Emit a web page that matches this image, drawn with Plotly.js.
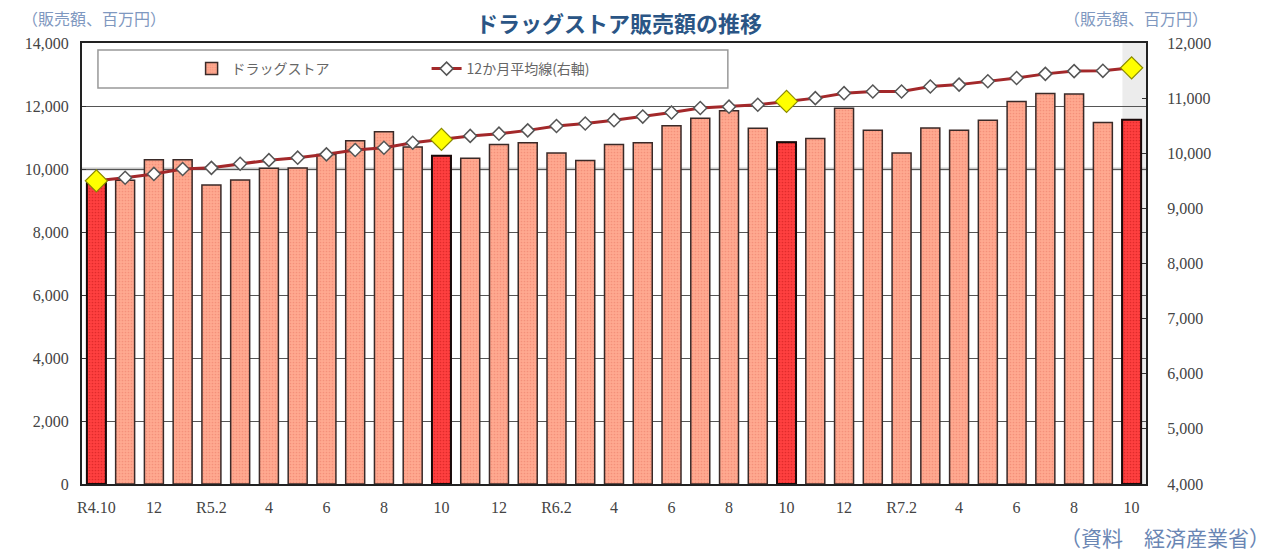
<!DOCTYPE html>
<html>
<head>
<meta charset="utf-8">
<script src="https://cdn.plot.ly/plotly-3.0.1.min.js"></script>
<style>
  html, body { margin: 0; padding: 0; background: #fff; }
  #chart { width: 1284px; height: 553px; }
</style>
</head>
<body>
<div id="chart"></div>
<script>
// ---- data ----
const months = [
  "R4.10","R4.11","R4.12",
  "R5.1","R5.2","R5.3","R5.4","R5.5","R5.6","R5.7","R5.8","R5.9","R5.10","R5.11","R5.12",
  "R6.1","R6.2","R6.3","R6.4","R6.5","R6.6","R6.7","R6.8","R6.9","R6.10","R6.11","R6.12",
  "R7.1","R7.2","R7.3","R7.4","R7.5","R7.6","R7.7","R7.8","R7.9","R7.10"
];
const sales = [
  9550, 9640, 10290,
  10290, 9490, 9650, 10020, 10030, 10460, 10900, 11180, 10700, 10420, 10340, 10780,
  10830, 10510, 10270, 10780, 10830, 11370, 11610, 11850, 11290, 10850, 10970, 11930,
  11230, 10510, 11300, 11230, 11550, 12140, 12400, 12380, 11480, 11560
];
const avg12 = [
  9500, 9555, 9625,
  9715, 9735, 9810, 9875, 9920, 9980, 10060, 10100, 10190, 10250, 10315, 10355,
  10415, 10495, 10540, 10600, 10665, 10740, 10820, 10845, 10880, 10940, 11000, 11090,
  11120, 11120, 11210, 11245, 11305, 11365, 11440, 11490, 11495, 11550
];
const highlightMonths = ["R4.10","R5.10","R6.10","R7.10"];
const tickMonths = ["R4.10","R4.12","R5.2","R5.4","R5.6","R5.8","R5.10","R5.12","R6.2","R6.4","R6.6","R6.8","R6.10","R6.12","R7.2","R7.4","R7.6","R7.8","R7.10"];
const tickLabels = ["R4.10","12","R5.2","4","6","8","10","12","R6.2","4","6","8","10","12","R7.2","4","6","8","10"];
const seriesNames = ["ドラッグストア", "12か月平均線(右軸)"];

// ---- derived ----
const hiIdx = months.map((m,i)=>highlightMonths.includes(m)?i:-1).filter(i=>i>=0);
const hiX = hiIdx.map(i=>months[i]);
const hiSales = hiIdx.map(i=>sales[i]);
const hiAvg = hiIdx.map(i=>avg12[i]);

const serif = '"Liberation Serif", "DejaVu Serif", serif';
const jp = '"Noto Sans CJK JP", "Noto Sans", sans-serif';

const traces = [
  {
    type: 'bar', x: months, y: sales, name: seriesNames[0],
    marker: { color: '#FFA58C', line: { color: '#3a2a28', width: 1.5 },
              pattern: { shape: '.', fgcolor: '#F4907A', bgcolor: '#FFA990', size: 3, solidity: 0.25 } },
    hoverinfo: 'x+y'
  },
  {
    type: 'bar', x: hiX, y: hiSales, name: seriesNames[0], showlegend: false,
    marker: { color: '#FF3A3A', line: { color: '#1a0a0a', width: 2 },
              pattern: { shape: '.', fgcolor: '#E02A2A', bgcolor: '#FF4040', size: 3, solidity: 0.25 } },
    hoverinfo: 'x+y'
  },
  {
    type: 'scatter', mode: 'lines+markers', x: months, y: avg12, yaxis: 'y2', name: seriesNames[1],
    line: { color: '#A3282A', width: 3 },
    marker: { symbol: 'diamond', size: 10, color: '#ffffff', line: { color: '#555555', width: 1.5 } },
    hoverinfo: 'x+y'
  },
  {
    type: 'scatter', mode: 'markers', x: hiX, y: hiAvg, yaxis: 'y2', showlegend: false,
    marker: { symbol: 'diamond', size: 17, color: '#FFFF00', line: { color: '#8a8a00', width: 1.2 } },
    hoverinfo: 'x+y'
  }
];

const layout = {
  width: 1284, height: 553,
  paper_bgcolor: '#ffffff', plot_bgcolor: '#ffffff',
  margin: { l: 82, r: 138, t: 43, b: 69 },
  barmode: 'overlay', bargap: 0.34,
  showlegend: true,
  legend: {
    orientation: 'h', x: 0.103, xanchor: 'left', y: 0.941, yanchor: 'middle',
    bgcolor: 'rgba(0,0,0,0)', borderwidth: 0,
    font: { family: jp, size: 14, color: '#666666' },
    entrywidth: 190, entrywidthmode: 'pixels', traceorder: 'normal',
    itemwidth: 30
  },
  xaxis: {
    type: 'category', categoryorder: 'array', categoryarray: months,
    tickmode: 'array', tickvals: tickMonths, ticktext: tickLabels,
    ticks: '', showgrid: false, showline: true, linecolor: '#222', linewidth: 2, mirror: true,
    tickfont: { family: serif, size: 16, color: '#444' }, ticklabelstandoff: 8,
    range: [-0.5, months.length - 0.5]
  },
  yaxis: {
    range: [0, 14000], dtick: 2000, tickformat: ',d',
    showgrid: true, gridcolor: '#555', gridwidth: 1,
    showline: true, linecolor: '#222', linewidth: 2,
    ticks: 'inside', ticklen: 4, tickcolor: '#333',
    tickfont: { family: serif, size: 16, color: '#444' }, ticklabelstandoff: 8,
    zeroline: false
  },
  yaxis2: {
    overlaying: 'y', side: 'right', range: [4000, 12000], dtick: 1000, tickformat: ',d',
    showgrid: false, showline: true, linecolor: '#222', linewidth: 2,
    ticks: 'inside', ticklen: 4, tickcolor: '#333',
    tickfont: { family: serif, size: 16, color: '#444' }, ticklabelstandoff: 16,
    zeroline: false
  },
  shapes: [
    { type: 'rect', xref: 'x', yref: 'paper', x0: 35.68, x1: 36.5, y0: 0, y1: 1,
      fillcolor: '#ececec', line: { width: 0 }, layer: 'below' },
    { type: 'line', xref: 'paper', yref: 'y', x0: 0, x1: 1, y0: 10000, y1: 10000,
      line: { color: '#c8c8c8', width: 3 }, layer: 'between' },
    { type: 'rect', xref: 'paper', yref: 'paper', x0: 0.015, x1: 0.607, y0: 0.898, y1: 0.984,
      fillcolor: '#ffffff', line: { color: '#999999', width: 1.5 }, layer: 'above' }
  ],
  annotations: [
    { text: '<b>ドラッグストア販売額の推移</b>', xref: 'paper', yref: 'paper', x: 0.505, y: 1.0, yshift: 21,
      xanchor: 'center', yanchor: 'middle', showarrow: false,
      font: { family: jp, size: 22, color: '#2A5585' } },
    { text: '（販売額、百万円）', xref: 'paper', yref: 'paper', x: 0, xshift: -62, y: 1.0, yshift: 25,
      xanchor: 'left', yanchor: 'middle', showarrow: false,
      font: { family: jp, size: 16, color: '#7F98C0' } },
    { text: '（販売額、百万円）', xref: 'paper', yref: 'paper', x: 1, xshift: -84, y: 1.0, yshift: 25,
      xanchor: 'left', yanchor: 'middle', showarrow: false,
      font: { family: jp, size: 16, color: '#7F98C0' } },
    { text: '（資料　経済産業省）', xref: 'paper', yref: 'paper', x: 1, xshift: -88, y: 0, yshift: -53,
      xanchor: 'left', yanchor: 'middle', showarrow: false,
      font: { family: jp, size: 21, color: '#6A86B4' } }
  ]
};

Plotly.newPlot('chart', traces, layout, { displayModeBar: false, staticPlot: true });
</script>
</body>
</html>
